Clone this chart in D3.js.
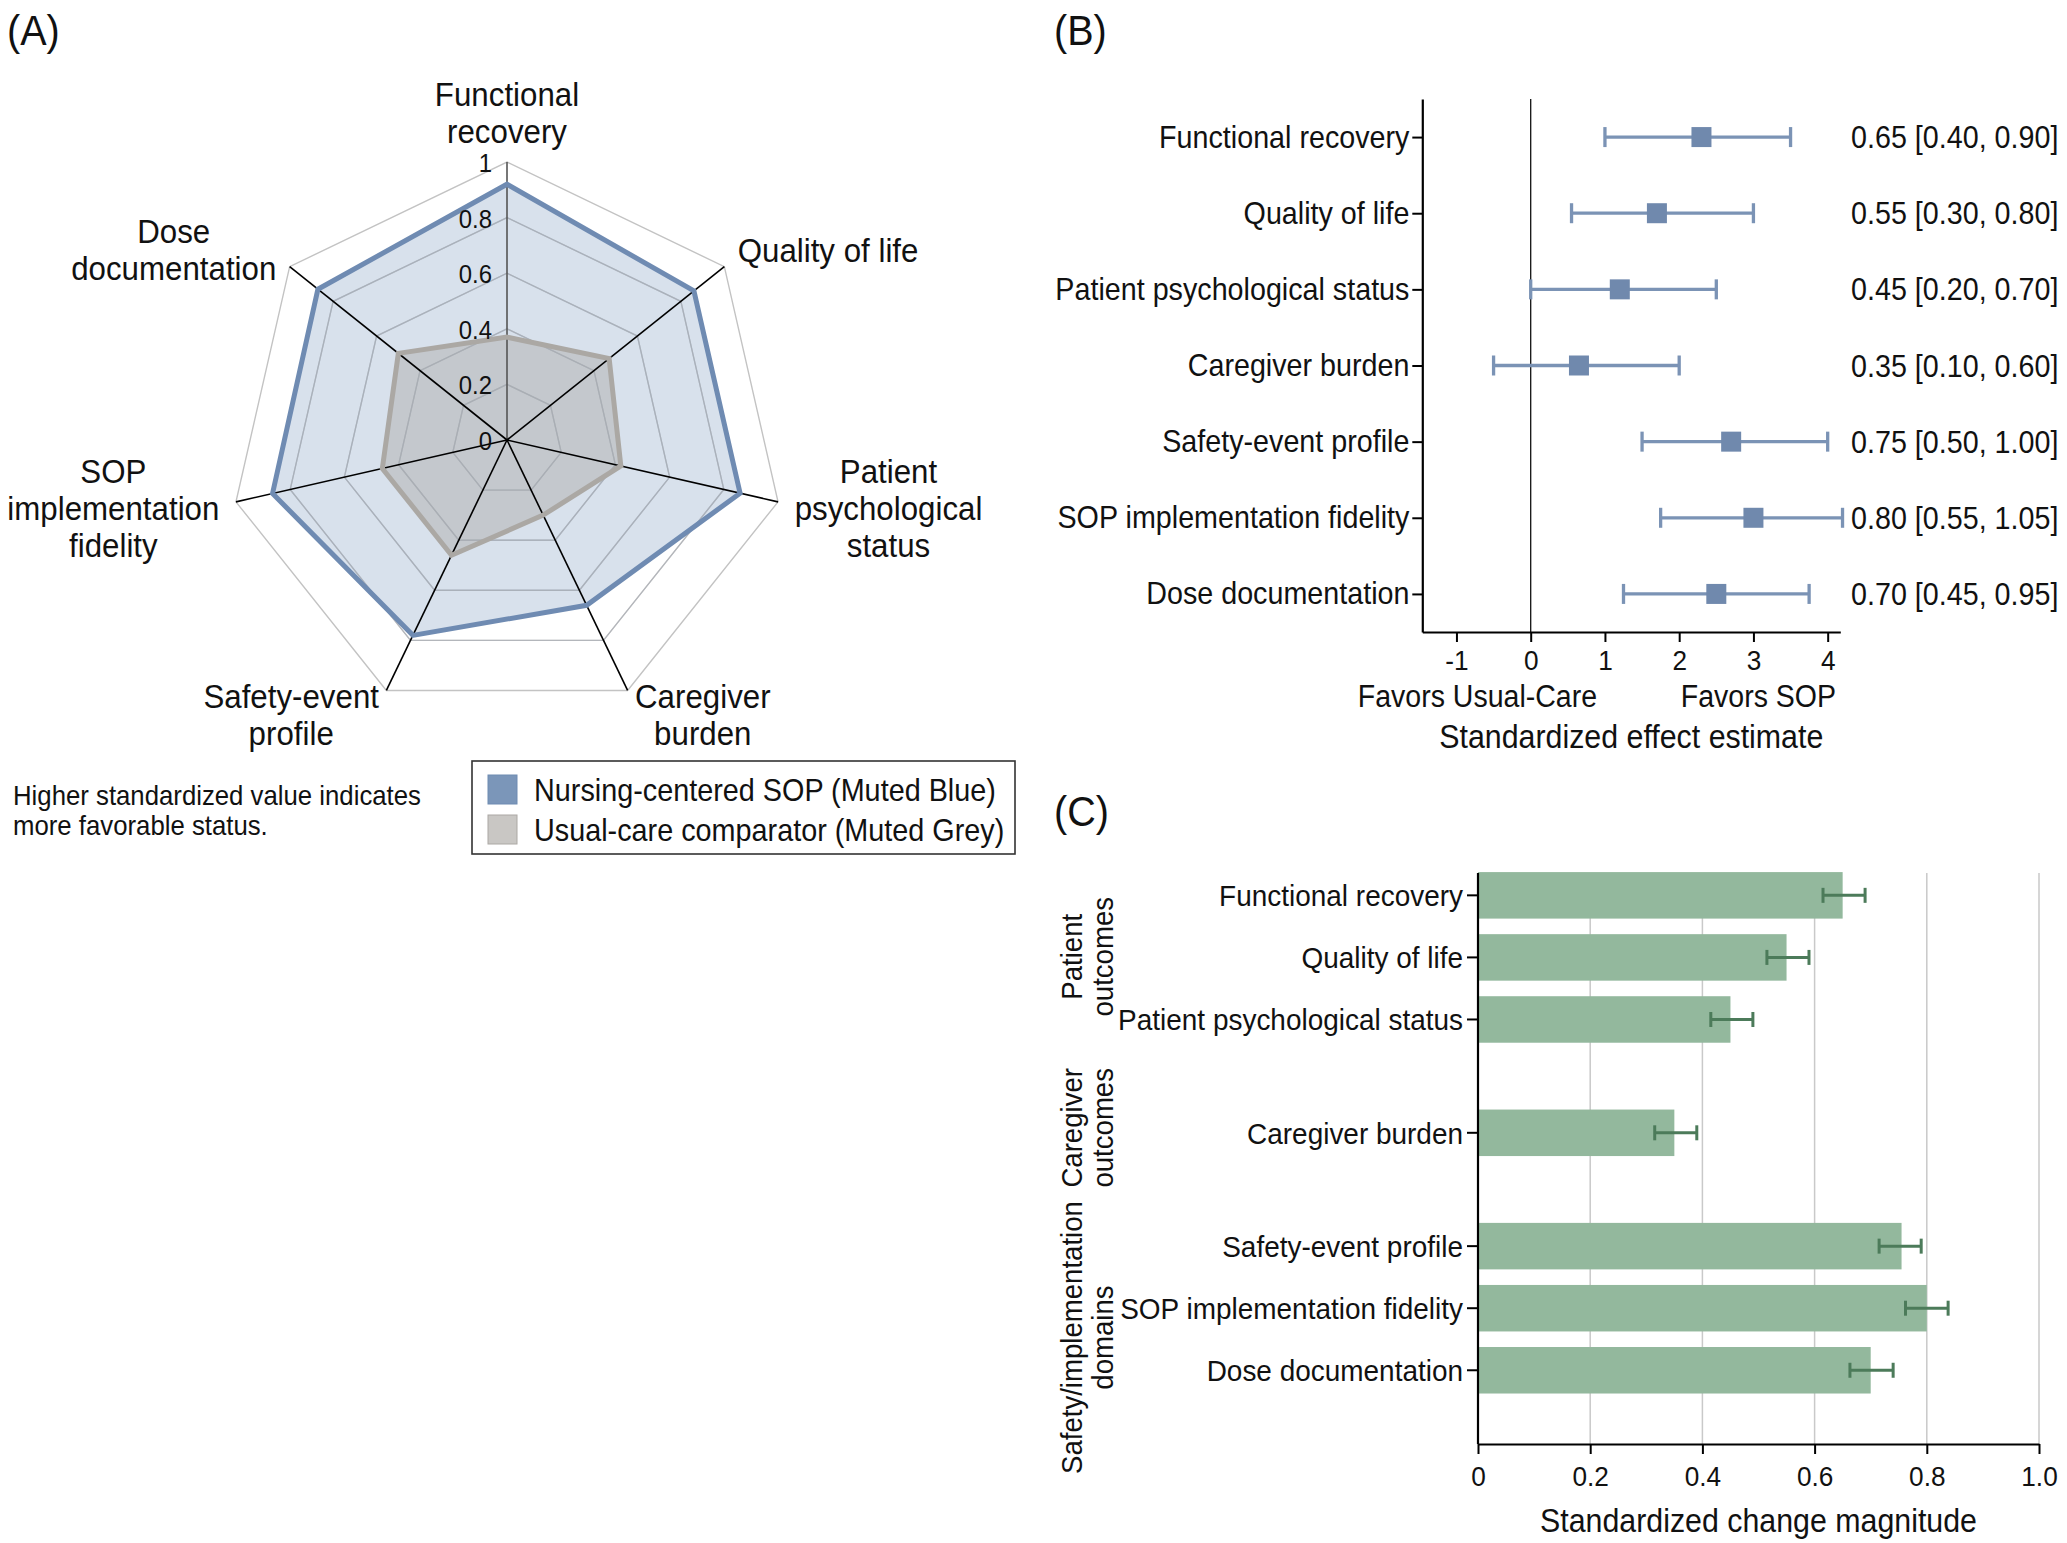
<!DOCTYPE html>
<html>
<head>
<meta charset="utf-8">
<script src="https://cdn.jsdelivr.net/npm/d3@7"></script>
<style>
  html, body { margin: 0; padding: 0; background: #ffffff; }
  svg { display: block; font-family: "Liberation Sans", Arial, Helvetica, sans-serif; }
</style>
</head>
<body>
<svg id="fig" width="2067" height="1543"></svg>
<script>
// ---------------- DATA ----------------
// Panel A (radar)
const radarAxes = ["Functional recovery", "Quality of life", "Patient psychological status",
  "Caregiver burden", "Safety-event profile", "SOP implementation fidelity", "Dose documentation"];
const radarLabelLines = [["Functional", "recovery"], ["Quality of life"], ["Patient", "psychological", "status"],
  ["Caregiver", "burden"], ["Safety-event", "profile"], ["SOP", "implementation", "fidelity"], ["Dose", "documentation"]];
const sopValues = [0.92, 0.86, 0.86, 0.66, 0.78, 0.865, 0.87];
const usualValues = [0.37, 0.47, 0.42, 0.30, 0.46, 0.46, 0.50];
const radarTicks = [0, 0.2, 0.4, 0.6, 0.8, 1];
const radarTickLabels = ["0", "0.2", "0.4", "0.6", "0.8", "1"];
const legendLabels = ["Nursing-centered SOP (Muted Blue)", "Usual-care comparator (Muted Grey)"];
const noteLines = ["Higher standardized value indicates", "more favorable status."];

// Panel B (forest)
const forestLabels = ["Functional recovery", "Quality of life", "Patient psychological status",
  "Caregiver burden", "Safety-event profile", "SOP implementation fidelity", "Dose documentation"];
const forestEst = [2.3, 1.7, 1.2, 0.65, 2.7, 3.0, 2.5];
const forestLo = [1.0, 0.55, 0.0, -0.5, 1.5, 1.75, 1.25];
const forestHi = [3.5, 3.0, 2.5, 2.0, 4.0, 4.2, 3.75];
const forestText = ["0.65 [0.40, 0.90]", "0.55 [0.30, 0.80]", "0.45 [0.20, 0.70]", "0.35 [0.10, 0.60]",
  "0.75 [0.50, 1.00]", "0.80 [0.55, 1.05]", "0.70 [0.45, 0.95]"];
const forestTicks = [-1, 0, 1, 2, 3, 4];

// Panel C (bars)
const barLabels = ["Functional recovery", "Quality of life", "Patient psychological status",
  "Caregiver burden", "Safety-event profile", "SOP implementation fidelity", "Dose documentation"];
const barGroupOf = [0, 0, 0, 1, 2, 2, 2];
const barGroupLines = [["Patient", "outcomes"], ["Caregiver", "outcomes"], ["Safety/implementation", "domains"]];
const barValues = [0.65, 0.55, 0.45, 0.35, 0.755, 0.80, 0.70];
const barErrLo = [0.615, 0.515, 0.415, 0.315, 0.715, 0.762, 0.663];
const barErrHi = [0.69, 0.59, 0.49, 0.39, 0.79, 0.838, 0.74];
const barTicks = [0, 0.2, 0.4, 0.6, 0.8, 1.0];

// ---------------- HELPERS ----------------
const SX = 0.92; // slight horizontal condensing of the type
const svg = d3.select("#fig");
svg.append("rect").attr("width", 2067).attr("height", 1543).attr("fill", "#ffffff");

function txt(g, x, y, s, size, anchor = "start", rot = "") {
  return g.append("text")
    .attr("transform", `translate(${x},${y})${rot} scale(${SX},1)`)
    .attr("font-size", size)
    .attr("text-anchor", anchor)
    .attr("fill", "#111")
    .text(s);
}

// Panel letters
txt(svg, 7, 45, "(A)", 43);
txt(svg, 1054, 45, "(B)", 43);
txt(svg, 1054, 826, "(C)", 43);

// ---------------- PANEL A: RADAR ----------------
(function () {
  const cx = 507, cy = 440, R = 278;
  const g = svg.append("g").attr("transform", `translate(${cx},${cy})`);
  const r = d3.scaleLinear().domain([0, 1]).range([0, R]);
  const ang = d3.scaleLinear().domain([0, radarAxes.length]).range([0, 2 * Math.PI]);
  const radial = d3.lineRadial().curve(d3.curveLinearClosed)
    .angle((d, i) => ang(i)).radius(d => r(d));

  // grid rings
  radarTicks.filter(t => t > 0).forEach(t => {
    g.append("path").attr("d", radial(radarAxes.map(() => t)))
      .attr("fill", "none").attr("stroke", "#c3c3c3").attr("stroke-width", 1.4);
  });

  // filled polygons
  g.append("path").attr("d", radial(sopValues))
    .attr("fill", "#7896be").attr("fill-opacity", 0.29).attr("stroke", "none");
  g.append("path").attr("d", radial(usualValues))
    .attr("fill", "#a9a6a2").attr("fill-opacity", 0.42).attr("stroke", "none");

  // grid rings again, faint, over the fills
  radarTicks.filter(t => t > 0 && t < 1).forEach(t => {
    g.append("path").attr("d", radial(radarAxes.map(() => t)))
      .attr("fill", "none").attr("stroke", "#a9aeb5").attr("stroke-opacity", 0.6).attr("stroke-width", 1.2);
  });

  // spokes
  radarAxes.forEach((a, i) => {
    const th = ang(i);
    g.append("line").attr("x1", 0).attr("y1", 0)
      .attr("x2", r(1) * Math.sin(th)).attr("y2", -r(1) * Math.cos(th))
      .attr("stroke", i === 0 ? "#555" : "#000").attr("stroke-width", 1.6);
  });

  // polygon outlines
  g.append("path").attr("d", radial(usualValues))
    .attr("fill", "none").attr("stroke", "#aba8a4").attr("stroke-width", 5).attr("stroke-linejoin", "miter");
  g.append("path").attr("d", radial(sopValues))
    .attr("fill", "none").attr("stroke", "#6f8bb2").attr("stroke-width", 5).attr("stroke-linejoin", "miter");

  // radial tick labels
  radarTicks.forEach((t, i) => {
    txt(g, -15, -r(t) + 10, radarTickLabels[i], 26, "end");
  });

  // axis labels
  radarLabelLines.forEach((lines, k) => {
    const th = ang(k), s = Math.sin(th), c = Math.cos(th);
    const vx = r(1) * s, vy = -r(1) * c;
    const texts = lines.map(l => g.append("text").attr("font-size", 34).attr("text-anchor", "middle")
      .attr("fill", "#111").text(l));
    const maxW = d3.max(texts, t => t.node().getComputedTextLength()) * SX;
    const n = lines.length, lh = 37;
    texts.forEach((t, i) => {
      let bx, by;
      if (Math.abs(s) < 0.05) {
        bx = vx;
        by = vy - 19 - (n - 1 - i) * lh;
      } else {
        bx = vx + Math.sign(s) * (17 * Math.abs(s) + maxW / 2);
        const bc = vy - 27 * c;
        by = bc + (i - (n - 1) / 2) * lh + 12;
      }
      t.attr("transform", `translate(${bx},${by}) scale(${SX},1)`);
    });
  });

  // note
  noteLines.forEach((l, i) => txt(svg, 13, 805 + i * 30, l, 28));

  // legend
  const lg = svg.append("g");
  lg.append("rect").attr("x", 472).attr("y", 761).attr("width", 543).attr("height", 93)
    .attr("fill", "#fff").attr("stroke", "#333").attr("stroke-width", 1.6);
  const swFill = ["#7b96b9", "#c9c7c4"], swStroke = ["#6f8bb2", "#aba8a4"];
  legendLabels.forEach((l, i) => {
    lg.append("rect").attr("x", 488).attr("y", 775 + i * 40).attr("width", 29).attr("height", 29)
      .attr("fill", swFill[i]).attr("stroke", swStroke[i]).attr("stroke-width", 1);
    txt(lg, 534, 801 + i * 40, l, 31.3);
  });
})();

// ---------------- PANEL B: FOREST ----------------
(function () {
  const top = 99, bottom = 632, left = 1422.3, right = 1840.3;
  const x = d3.scaleLinear().domain([-1.46, 4.17]).range([left, right]);
  const y = d3.scalePoint().domain(forestLabels).range([top, bottom]).padding(0.5);
  const g = svg.append("g");
  const col = "#7089ad", lineCol = "#7b93b5";

  // zero reference
  g.append("line").attr("x1", x(0)).attr("x2", x(0)).attr("y1", top).attr("y2", bottom)
    .attr("stroke", "#111").attr("stroke-width", 1.3);

  // CIs
  forestLabels.forEach((lab, i) => {
    const yy = y(lab);
    g.append("line").attr("x1", x(forestLo[i])).attr("x2", x(forestHi[i])).attr("y1", yy).attr("y2", yy)
      .attr("stroke", lineCol).attr("stroke-width", 3.3);
    [forestLo[i], forestHi[i]].forEach(v => {
      g.append("line").attr("x1", x(v)).attr("x2", x(v)).attr("y1", yy - 10).attr("y2", yy + 10)
        .attr("stroke", lineCol).attr("stroke-width", 3.3);
    });
    g.append("rect").attr("x", x(forestEst[i]) - 10).attr("y", yy - 10).attr("width", 20).attr("height", 20)
      .attr("fill", col);
    txt(g, 1851, yy + 11, forestText[i], 31.2, "start");
  });

  // axes
  const ya = g.append("g").attr("transform", `translate(${left},0)`)
    .call(d3.axisLeft(y).tickSize(10).tickSizeOuter(0).tickPadding(4));
  const xa = g.append("g").attr("transform", `translate(0,${bottom})`)
    .call(d3.axisBottom(x).tickValues(forestTicks).tickSize(10).tickSizeOuter(0).tickPadding(8)
      .tickFormat(d => (d < 0 ? "-" + Math.abs(d) : String(d))));
  [ya, xa].forEach(a => {
    a.select(".domain").attr("stroke", "#000").attr("stroke-width", 2.2);
    a.selectAll(".tick line").attr("stroke", "#000").attr("stroke-width", 2);
    a.selectAll(".tick text").attr("fill", "#111").attr("font-family", null)
      .attr("transform", `scale(${SX},1)`);
  });
  ya.selectAll(".tick text").attr("font-size", 31.2);
  xa.selectAll(".tick text").attr("font-size", 28.5);
  ya.attr("font-size", null); xa.attr("font-size", null);

  txt(g, 1597, 707, "Favors Usual-Care", 31, "end");
  txt(g, 1836, 707, "Favors SOP", 31, "end");
  txt(g, (left + right) / 2, 748, "Standardized effect estimate", 33, "middle");
})();

// ---------------- PANEL C: BARS ----------------
(function () {
  const top = 873, bottom = 1444, left = 1478, right = 2039;
  const gap = 0.826;
  const slot = barLabels.map((d, i) => i + barGroupOf[i] * gap);
  const x = d3.scaleLinear().domain([0, 1]).range([left, right]);
  const y = d3.scaleLinear().domain([-0.36, 8.84]).range([top, bottom]);
  const bh = 46.5;
  const g = svg.append("g");

  // gridlines
  barTicks.filter(t => t > 0).forEach(t => {
    g.append("line").attr("x1", x(t)).attr("x2", x(t)).attr("y1", top).attr("y2", bottom)
      .attr("stroke", "#c9c9c9").attr("stroke-width", 1.5);
  });

  // bars
  barLabels.forEach((lab, i) => {
    const yy = y(slot[i]);
    g.append("rect").attr("x", x(0)).attr("y", yy - bh / 2).attr("width", x(barValues[i]) - x(0))
      .attr("height", bh).attr("fill", "#93b89d");
  });
  // error bars
  const ec = "#4c7b5a";
  barLabels.forEach((lab, i) => {
    const yy = y(slot[i]);
    g.append("line").attr("x1", x(barErrLo[i])).attr("x2", x(barErrHi[i])).attr("y1", yy).attr("y2", yy)
      .attr("stroke", ec).attr("stroke-width", 3);
    [barErrLo[i], barErrHi[i]].forEach(v => {
      g.append("line").attr("x1", x(v)).attr("x2", x(v)).attr("y1", yy - 7.5).attr("y2", yy + 7.5)
        .attr("stroke", ec).attr("stroke-width", 3);
    });
  });

  // y axis with category ticks
  const ya = g.append("g").attr("transform", `translate(${left},0)`);
  ya.append("line").attr("x1", 0).attr("x2", 0).attr("y1", top).attr("y2", bottom)
    .attr("stroke", "#000").attr("stroke-width", 2.2);
  barLabels.forEach((lab, i) => {
    const yy = y(slot[i]);
    ya.append("line").attr("x1", -11).attr("x2", 0).attr("y1", yy).attr("y2", yy)
      .attr("stroke", "#000").attr("stroke-width", 2);
    txt(ya, -15, yy + 11, lab, 30.4, "end");
  });

  // x axis
  const xa = g.append("g").attr("transform", `translate(0,${bottom})`)
    .call(d3.axisBottom(x).tickValues(barTicks).tickSize(10).tickSizeOuter(0).tickPadding(12)
      .tickFormat(d => (d === 0 ? "0" : d3.format(".1f")(d))));
  xa.select(".domain").attr("stroke", "#000").attr("stroke-width", 2.2);
  xa.selectAll(".tick line").attr("stroke", "#000").attr("stroke-width", 2);
  xa.selectAll(".tick text").attr("fill", "#111").attr("font-size", 28.5)
    .attr("transform", `scale(${SX},1)`);
  xa.attr("font-size", null).attr("font-family", null);

  txt(g, (left + right) / 2, 1532, "Standardized change magnitude", 33, "middle");

  // group labels (rotated), centred on each group's band (first/last band run to the axis ends)
  const halfStep = (y(1) - y(0)) / 2;
  const nG = barGroupLines.length;
  barGroupLines.forEach((lines, gi) => {
    const rows = slot.filter((s, i) => barGroupOf[i] === gi).map(s => y(s));
    const bandTop = gi === 0 ? top : d3.min(rows) - halfStep;
    const bandBot = gi === nG - 1 ? bottom + 26 : d3.max(rows) + halfStep;
    const cy = (bandTop + bandBot) / 2 - 5;
    lines.forEach((l, li) => {
      txt(g, 1082 + li * 31, cy, l, 30, "middle", " rotate(-90)");
    });
  });
})();
</script>
</body>
</html>
